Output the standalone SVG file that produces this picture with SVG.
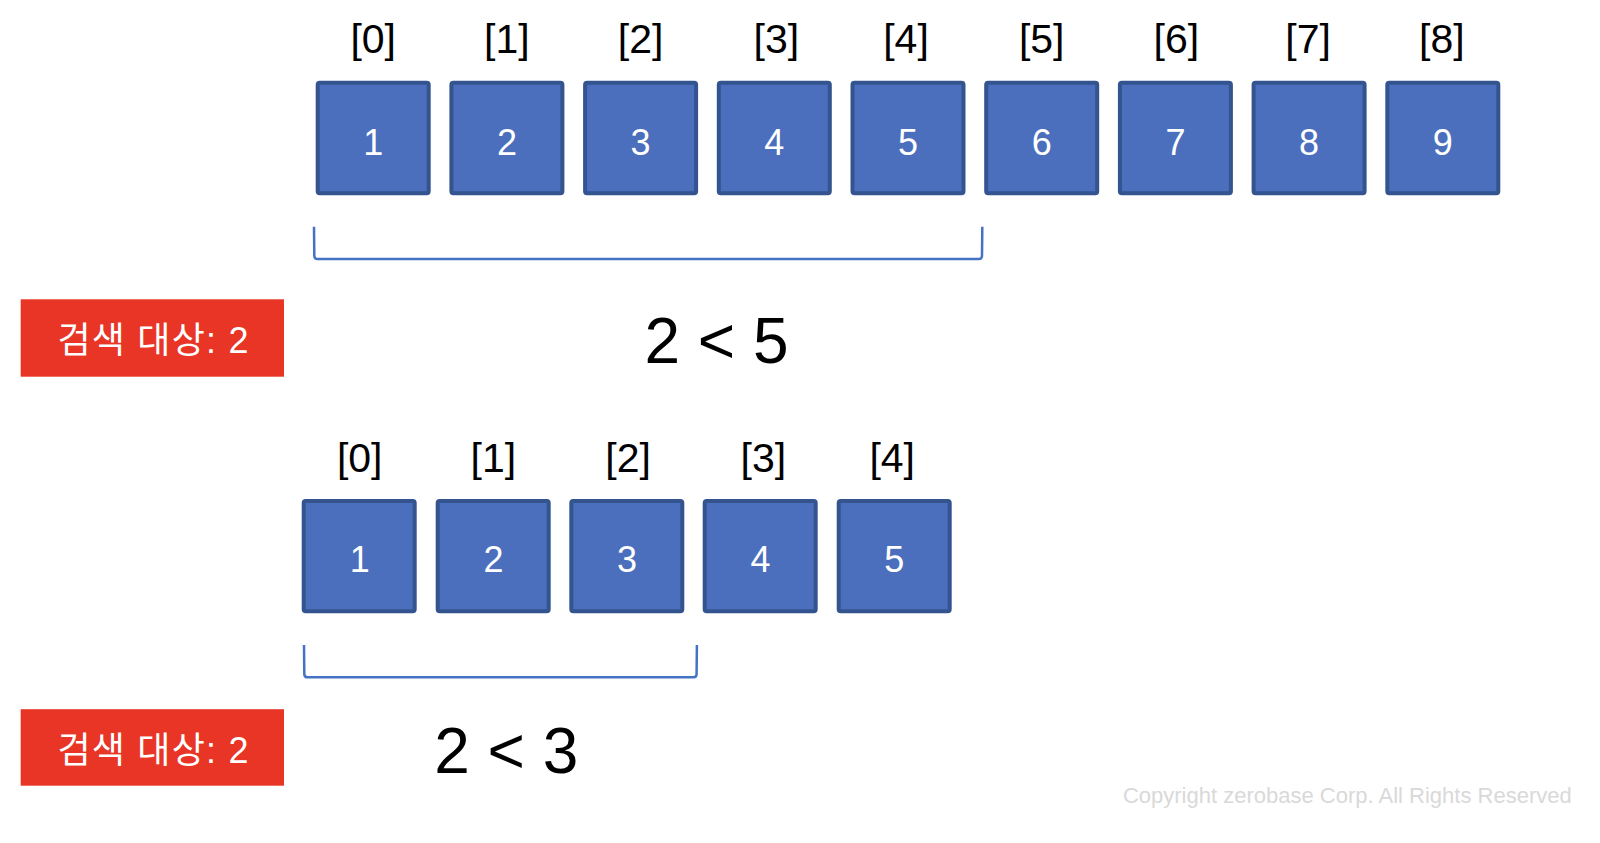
<svg xmlns="http://www.w3.org/2000/svg" width="1600" height="843" viewBox="0 0 1600 843">
<style>
.box{fill:#4B6FBD;stroke:#34548F;stroke-width:4}
.num{font-family:"Liberation Sans",Arial,sans-serif;font-size:36px;fill:#ffffff;text-anchor:middle}
.idx{font-family:"Liberation Sans",Arial,sans-serif;font-size:41px;fill:#000000;text-anchor:middle}
.cmp{font-family:"Liberation Sans",Arial,sans-serif;font-size:64px;fill:#000000;text-anchor:middle}
.tag{fill:#E83526}
.tagt{font-family:"Liberation Sans","Noto Sans CJK KR",sans-serif;font-size:36px;letter-spacing:1.2px;fill:#ffffff;text-anchor:middle}
.brk{fill:none;stroke:#4472C4;stroke-width:2.5;stroke-linejoin:round}
.copy{font-family:"Liberation Sans",Arial,sans-serif;font-size:22px;fill:#d9d9d9;text-anchor:end}
</style>
<rect width="1600" height="843" fill="#ffffff"/>
<g id="row1">
  <g id="r1n0"><text class="idx" x="373.2" y="53">[0]</text><rect class="box" x="317.7" y="82.7" width="111" height="110.6" rx="2"/><text class="num" x="373.2" y="155">1</text></g>
  <g id="r1n1"><text class="idx" x="506.9" y="53">[1]</text><rect class="box" x="451.4" y="82.7" width="111" height="110.6" rx="2"/><text class="num" x="506.9" y="155">2</text></g>
  <g id="r1n2"><text class="idx" x="640.6" y="53">[2]</text><rect class="box" x="585.1" y="82.7" width="111" height="110.6" rx="2"/><text class="num" x="640.6" y="155">3</text></g>
  <g id="r1n3"><text class="idx" x="776.3" y="53">[3]</text><rect class="box" x="718.8" y="82.7" width="111" height="110.6" rx="2"/><text class="num" x="774.3" y="155">4</text></g>
  <g id="r1n4"><text class="idx" x="906" y="53">[4]</text><rect class="box" x="852.5" y="82.7" width="111" height="110.6" rx="2"/><text class="num" x="908" y="155">5</text></g>
  <g id="r1n5"><text class="idx" x="1041.7" y="53">[5]</text><rect class="box" x="986.2" y="82.7" width="111" height="110.6" rx="2"/><text class="num" x="1041.7" y="155">6</text></g>
  <g id="r1n6"><text class="idx" x="1176.4" y="53">[6]</text><rect class="box" x="1119.9" y="82.7" width="111" height="110.6" rx="2"/><text class="num" x="1175.4" y="155">7</text></g>
  <g id="r1n7"><text class="idx" x="1308.1" y="53">[7]</text><rect class="box" x="1253.6" y="82.7" width="111" height="110.6" rx="2"/><text class="num" x="1309.1" y="155">8</text></g>
  <g id="r1n8"><text class="idx" x="1441.8" y="53">[8]</text><rect class="box" x="1387.3" y="82.7" width="111" height="110.6" rx="2"/><text class="num" x="1442.8" y="155">9</text></g>
</g>
<g id="row2">
  <g id="r2n0"><text class="idx" x="359.7" y="471.7">[0]</text><rect class="box" x="303.7" y="501" width="111" height="110.3" rx="2"/><text class="num" x="359.7" y="572">1</text></g>
  <g id="r2n1"><text class="idx" x="493.4" y="471.7">[1]</text><rect class="box" x="437.7" y="501" width="111" height="110.3" rx="2"/><text class="num" x="493.4" y="572">2</text></g>
  <g id="r2n2"><text class="idx" x="628.1" y="471.7">[2]</text><rect class="box" x="571.3" y="501" width="111" height="110.3" rx="2"/><text class="num" x="627.1" y="572">3</text></g>
  <g id="r2n3"><text class="idx" x="763.4" y="471.7">[3]</text><rect class="box" x="704.7" y="501" width="111" height="110.3" rx="2"/><text class="num" x="760.4" y="572">4</text></g>
  <g id="r2n4"><text class="idx" x="892.2" y="471.7">[4]</text><rect class="box" x="838.7" y="501" width="111" height="110.3" rx="2"/><text class="num" x="894.2" y="572">5</text></g>
</g>
<g id="connectors">
  <path class="brk" d="M314,226.7 L314.3,256 Q314.5,259 317.5,259 L978.8,259 Q981.8,259 982,256 L982.3,226.7"/>
  <path class="brk" d="M304,645 L304.3,674.3 Q304.5,677.3 307.5,677.3 L693.5,677.3 Q696.5,677.3 696.6,674.3 L696.9,645"/>
</g>
<g id="tag1"><rect class="tag" x="20.7" y="299.3" width="263.3" height="77.4"/><text class="tagt" x="153.6" y="353.3">검색 대상: 2</text></g>
<g id="tag2"><rect class="tag" x="20.7" y="709.2" width="263.3" height="76.5"/><text class="tagt" x="153.6" y="763.3">검색 대상: 2</text></g>
<g id="cmp1"><text class="cmp" x="716.5" y="362.7">2 &lt; 5</text></g>
<g id="cmp2"><text class="cmp" x="506.3" y="772.7">2 &lt; 3</text></g>
<text class="copy" x="1571.7" y="803.3">Copyright zerobase Corp. All Rights Reserved</text>
</svg>
